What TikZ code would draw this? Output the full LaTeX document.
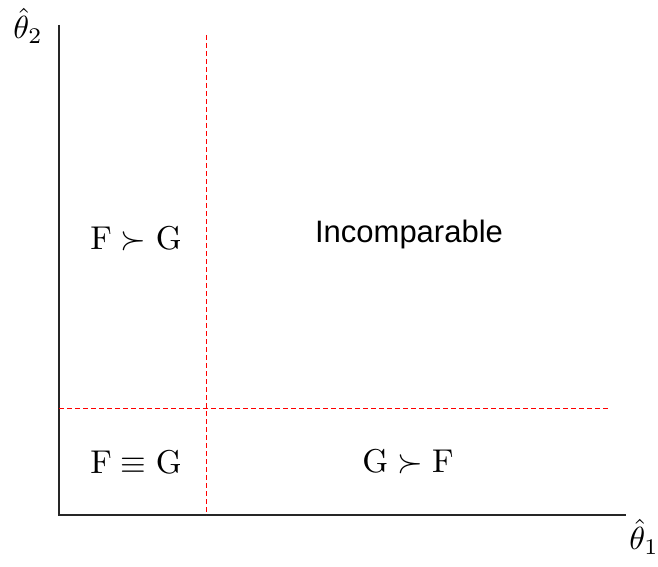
\documentclass[tikz,border=0pt]{standalone}
\usepackage{fontspec}
\newfontfamily\arialfont{Liberation Sans}
\begin{document}
\begin{tikzpicture}[x=1pt,y=-1pt,
  axisline/.style={draw=black!85,line width=1.3pt},
  regionline/.style={draw=red,line width=1pt,dash pattern=on 5pt off 3pt},
  mathlabel/.style={inner sep=0pt,scale=3.3},
  sanslabel/.style={inner sep=0pt,font=\arialfont\fontsize{31}{36}\selectfont},
  axislabel/.style={inner sep=0pt,scale=3.2}]
\useasboundingbox (0,0) rectangle (658,567);
\fill[white] (0,0) rectangle (658,567);
% axes
\coordinate (O) at (59,515);
\coordinate (ytop) at (59,25);
\coordinate (xend) at (626,515);
\draw[axisline] (ytop) -- (O) -- (xend);
% dividing lines
\coordinate (vtop) at (206,35);
\coordinate (vbot) at (206,515);
\coordinate (hl) at (59,408);
\coordinate (hr) at (608,408);
\draw[regionline] (vtop) -- (vbot);
\draw[regionline] (hl) -- (hr);
% axis labels
\node[axislabel] (t2) at (28,26) {$\hat{\theta}_2$};
\node[axislabel] (t1) at (644,537) {$\hat{\theta}_1$};
% region labels
\node[mathlabel] (fg) at (136,239) {$\mathrm{F}\succ\mathrm{G}$};
\node[sanslabel] (inc) at (409,234) {Incomparable};
\node[mathlabel] (feq) at (136,462) {$\mathrm{F}\equiv\mathrm{G}$};
\node[mathlabel] (gf) at (408,462) {$\mathrm{G}\succ\mathrm{F}$};
\end{tikzpicture}
\end{document}
